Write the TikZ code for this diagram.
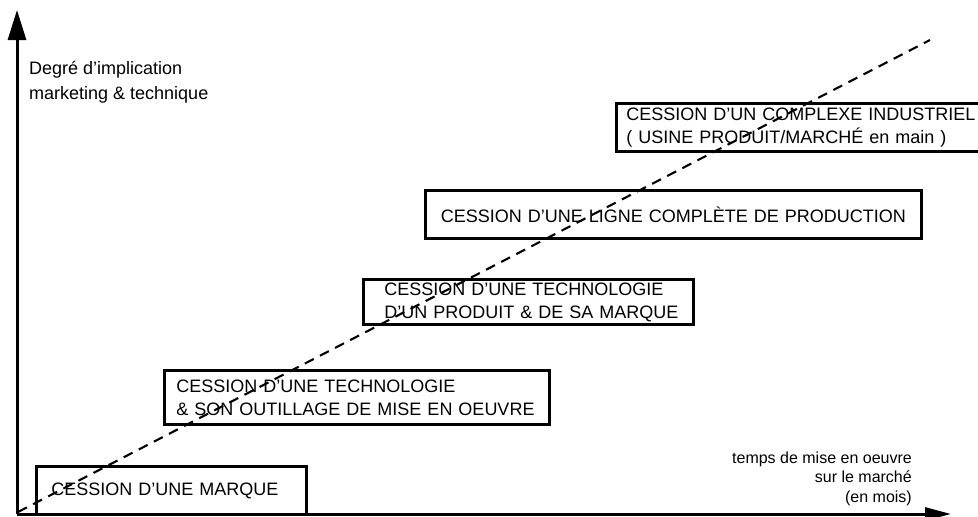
\documentclass[tikz,border=0pt]{standalone}
\usepackage{fontspec}
\setmainfont{Liberation Sans}
\usetikzlibrary{arrows.meta}
\begin{document}
\begin{tikzpicture}[x=1pt,y=-1pt,
  box/.style={draw, line width=2.9pt, anchor=north west, inner ysep=0pt, align=left,
    font=\fontsize{18}{23}\selectfont},
  axis/.style={line width=3pt},
  trend/.style={line width=2.1pt, dash pattern=on 10pt off 7pt},
  lbl/.style={inner sep=0pt, font=\fontsize{18}{25}\selectfont},
  slbl/.style={inner sep=0pt, font=\fontsize{16}{19}\selectfont}]
\useasboundingbox (0,0) rectangle (978,517);
% boxes
\node[box, minimum width=270pt, minimum height=48pt, inner xsep=15pt, text width=240pt] (b1) at (35,465)
  {CESSION D’UNE MARQUE};
\node[box, minimum width=385pt, minimum height=54pt, inner xsep=12pt, text width=361pt] (b2) at (163,369)
  {CESSION D’UNE TECHNOLOGIE\\ \& SON OUTILLAGE DE MISE EN OEUVRE};
\node[box, minimum width=330pt, minimum height=45pt, inner xsep=21pt, text width=288pt] (b3) at (362,278)
  {\mbox{CESSION D’UNE TECHNOLOGIE}\\ \mbox{D’UN PRODUIT \& DE SA MARQUE}};
\node[box, align=center, minimum width=496pt, minimum height=48pt, inner xsep=10pt, text width=476pt] (b4) at (424,189)
  {CESSION D’UNE LIGNE COMPLÈTE DE PRODUCTION};
\node[box, minimum width=372pt, minimum height=48pt, inner xsep=10pt, text width=352pt] (b5) at (615,102)
  {CESSION D’UN COMPLEXE INDUSTRIEL\\ ( USINE PRODUIT/MARCHÉ en main )};
% axes
\coordinate (o) at (17,514);
\coordinate (ytip) at (17,10);
\coordinate (xtip) at (951,514);
\draw[axis, -{Triangle[length=30pt,width=18pt]}] (o) -- (ytip);
\draw[axis, -{Triangle[length=26pt,width=13pt]}] (o) -- (xtip);
% axis labels
\node[lbl, anchor=base west] (y1) at (29,74) {Degré d’implication};
\node[lbl, anchor=base west] (y2) at (29,99) {marketing \& technique};
\node[slbl, anchor=base east] (x1) at (912,463) {temps de mise en oeuvre};
\node[slbl, anchor=base east] (x2) at (912,482.5) {sur le marché};
\node[slbl, anchor=base east] (x3) at (912,502) {(en mois)};
% trend line
\coordinate (d0) at (18,512);
\coordinate (d1) at (930,40);
\draw[trend] (d0) -- (d1);
\end{tikzpicture}
\end{document}
